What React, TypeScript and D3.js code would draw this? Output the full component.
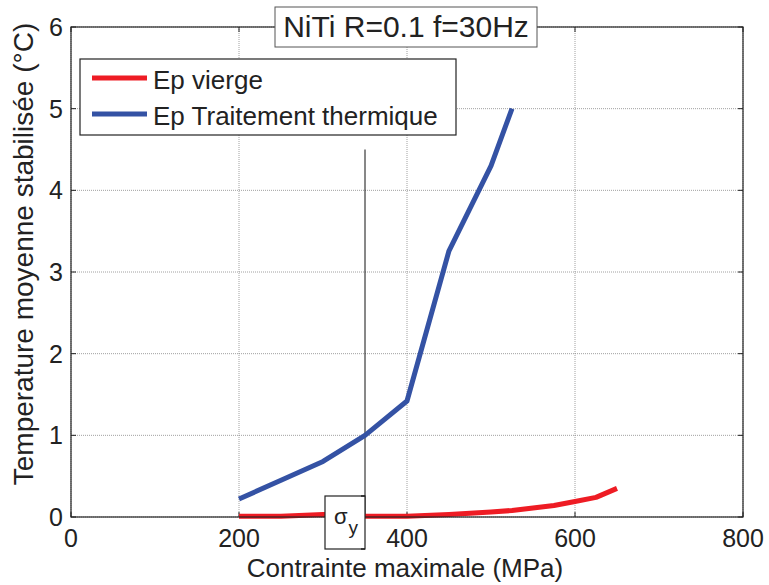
import * as d3 from "d3";

// Contrainte maximale (MPa) vs température moyenne stabilisée (°C)
const stressVierge = [200, 250, 300, 350, 400, 450, 500, 525, 550, 575, 600, 625, 650];
const tempVierge = [0.01, 0.01, 0.03, 0.01, 0.01, 0.03, 0.06, 0.08, 0.11, 0.14, 0.19, 0.24, 0.35];
const stressTT = [200, 250, 300, 350, 400, 450, 500, 525];
const tempTT = [0.22, 0.45, 0.68, 1.0, 1.42, 3.26, 4.3, 5.0];
const xTicks = [0, 200, 400, 600, 800];
const yTicks = [0, 1, 2, 3, 4, 5, 6];
const sigmaY = 350;
const sigmaYTop = 4.5;
const legendItems = [
  { label: "Ep vierge", color: "#ee1c24" },
  { label: "Ep Traitement thermique", color: "#3452a4" },
];

const W = 769;
const H = 585;
const M = { top: 27, right: 26, bottom: 68, left: 71 };
const FONT = "'Liberation Sans', Arial, Helvetica, sans-serif";

export default function App() {
  const innerW = W - M.left - M.right;
  const innerH = H - M.top - M.bottom;
  const x = d3.scaleLinear().domain([0, 800]).range([0, innerW]);
  const y = d3.scaleLinear().domain([0, 6]).range([innerH, 0]);

  const line = d3
    .line<[number, number]>()
    .x((d) => x(d[0]))
    .y((d) => y(d[1]));

  const vierge = stressVierge.map((s, i) => [s, tempVierge[i]] as [number, number]);
  const tt = stressTT.map((s, i) => [s, tempTT[i]] as [number, number]);

  const tick = 5;

  return (
    <svg
      width={W}
      height={H}
      style={{ position: "absolute", left: 0, top: 0, background: "#fff" }}
      fontFamily={FONT}
    >
      <g transform={`translate(${M.left},${M.top})`}>
        {/* grid */}
        {xTicks.map((t) => (
          <line key={"gx" + t} x1={x(t)} x2={x(t)} y1={0} y2={innerH} stroke="#888" strokeWidth={0.8} strokeDasharray="1 1" />
        ))}
        {yTicks.map((t) => (
          <line key={"gy" + t} x1={0} x2={innerW} y1={y(t)} y2={y(t)} stroke="#888" strokeWidth={0.8} strokeDasharray="1 1" />
        ))}

        {/* ticks inside, all four sides */}
        {xTicks.map((t) => (
          <g key={"tx" + t} stroke="#222" strokeWidth={1}>
            <line x1={x(t)} x2={x(t)} y1={innerH} y2={innerH - tick} />
            <line x1={x(t)} x2={x(t)} y1={0} y2={tick} />
          </g>
        ))}
        {yTicks.map((t) => (
          <g key={"ty" + t} stroke="#222" strokeWidth={1}>
            <line x1={0} x2={tick} y1={y(t)} y2={y(t)} />
            <line x1={innerW} x2={innerW - tick} y1={y(t)} y2={y(t)} />
          </g>
        ))}

        {/* sigma_y vertical line */}
        <line x1={x(sigmaY)} x2={x(sigmaY)} y1={y(0)} y2={y(sigmaYTop)} stroke="#111" strokeWidth={1} />

        {/* series */}
        <path d={line(tt) ?? ""} fill="none" stroke="#3452a4" strokeWidth={5} strokeLinejoin="round" />
        <path d={line(vierge) ?? ""} fill="none" stroke="#ee1c24" strokeWidth={5} strokeLinejoin="round" />

        {/* box */}
        <rect x={0} y={0} width={innerW} height={innerH} fill="none" stroke="#222" strokeWidth={1.2} />

        {/* tick labels */}
        {xTicks.map((t) => (
          <text key={"lx" + t} x={x(t)} y={innerH + 30} textAnchor="middle" fontSize={25} fill="#222">
            {t}
          </text>
        ))}
        {yTicks.map((t) => (
          <text key={"ly" + t} x={-8} y={y(t) + 9} textAnchor="end" fontSize={25} fill="#222">
            {t}
          </text>
        ))}

        {/* sigma_y label box */}
        <g transform={`translate(${x(sigmaY) - 40},${innerH - 21})`}>
          <rect x={0} y={0} width={40} height={53} fill="#fff" stroke="#222" strokeWidth={1.2} />
          <line x1={40} x2={36} y1={0} y2={0} stroke="#222" strokeWidth={1.5} />
          <line x1={40} x2={36} y1={53} y2={53} stroke="#222" strokeWidth={1.5} />
          <text x={9} y={28} fontSize={22} fill="#222">
            σ
            <tspan fontSize={19} dx={1} dy={10}>y</tspan>
          </text>
        </g>

        {/* legend */}
        <g transform="translate(9,32)">
          <rect x={0} y={0} width={376} height={76} fill="#fff" stroke="#222" strokeWidth={1.2} />
          {legendItems.map((d, i) => (
            <g key={d.label} transform={`translate(0,${19 + i * 36})`}>
              <line x1={12} x2={67} y1={0} y2={0} stroke={d.color} strokeWidth={5} />
              <text x={73} y={11} fontSize={26} fill="#222">
                {d.label}
              </text>
            </g>
          ))}
        </g>
      </g>

      {/* title */}
      <rect x={275} y={7} width={262} height={40} fill="#fff" stroke="#555" strokeWidth={1} />
      <text x={406} y={37} textAnchor="middle" fontSize={30} fill="#222">
        NiTi R=0.1 f=30Hz
      </text>

      {/* axis labels */}
      <text x={405} y={577} textAnchor="middle" fontSize={26} fill="#222">
        Contrainte maximale (MPa)
      </text>
      <text
        transform="translate(33,254) rotate(-90)"
        textAnchor="middle"
        fontSize={28}
        fill="#222"
      >
        Temperature moyenne stabilisée (°C)
      </text>
    </svg>
  );
}
